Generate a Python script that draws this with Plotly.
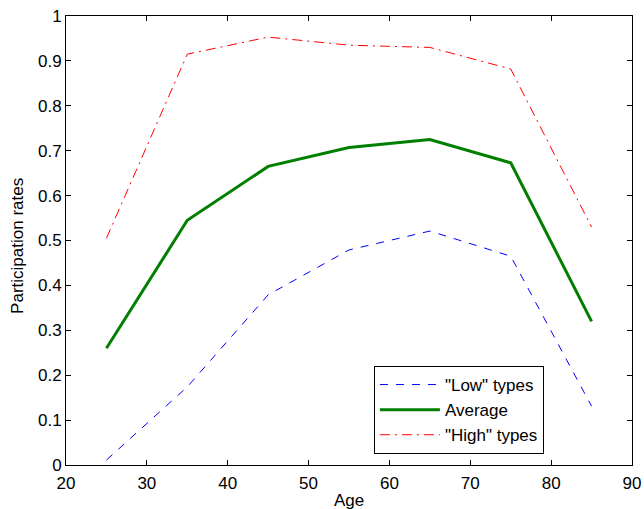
import plotly.graph_objects as go

ages = [25, 35, 45, 55, 65, 75, 85]
low_types = [0.011, 0.174, 0.379, 0.479, 0.521, 0.465, 0.131]
average = [0.26, 0.545, 0.665, 0.707, 0.725, 0.673, 0.32]
high_types = [0.505, 0.915, 0.953, 0.935, 0.93, 0.882, 0.53]

x_ticks = [20, 30, 40, 50, 60, 70, 80, 90]
y_ticks = [0, 0.1, 0.2, 0.3, 0.4, 0.5, 0.6, 0.7, 0.8, 0.9, 1]
y_tick_text = ["0", "0.1", "0.2", "0.3", "0.4", "0.5", "0.6", "0.7", "0.8", "0.9", "1"]

FONT = "Liberation Sans, Arial, Helvetica"
FS = 17

fig = go.Figure()
fig.add_trace(go.Scatter(x=ages, y=low_types, mode="lines", name='"Low" types',
                         line=dict(color="#0000ff", width=1, dash="8px,8px")))
fig.add_trace(go.Scatter(x=ages, y=average, mode="lines", name="Average",
                         line=dict(color="#007f00", width=3)))
fig.add_trace(go.Scatter(x=ages, y=high_types, mode="lines", name='"High" types',
                         line=dict(color="#ff0000", width=1, dash="10px,5px,2px,5px")))

axis_common = dict(showline=True, linecolor="black", linewidth=1, mirror="ticks",
                   ticks="inside", ticklen=5, tickcolor="black", showgrid=False,
                   zeroline=False, automargin=False,
                   tickfont=dict(family=FONT, size=FS, color="black"))

fig.update_xaxes(range=[20, 90], tickvals=x_ticks, ticklabelstandoff=3, **axis_common)
fig.update_yaxes(range=[0, 1], tickvals=y_ticks, ticktext=y_tick_text, **axis_common)

fig.add_annotation(text="Age", xref="paper", yref="paper", x=0.5, y=-0.08,
                   xanchor="center", yanchor="middle", showarrow=False,
                   font=dict(family=FONT, size=FS, color="black"))
fig.add_annotation(text="Participation rates", xref="paper", yref="paper", x=-0.0848, y=0.488,
                   xanchor="center", yanchor="middle", showarrow=False, textangle=-90,
                   font=dict(family=FONT, size=FS, color="black"))

fig.update_layout(
    width=644, height=509,
    margin=dict(l=66, r=12, t=16, b=44),
    plot_bgcolor="white", paper_bgcolor="white",
    font=dict(family=FONT, size=FS, color="black"),
    legend=dict(x=0.544, y=0.2205, xanchor="left", yanchor="top",
                bordercolor="black", borderwidth=1, bgcolor="white",
                itemwidth=60, entrywidth=158, entrywidthmode="pixels",
                font=dict(family=FONT, size=FS, color="black"), tracegroupgap=0),
)

fig.write_html("out.html", config={"displayModeBar": False},
               post_script="document.body.style.margin='0';")
